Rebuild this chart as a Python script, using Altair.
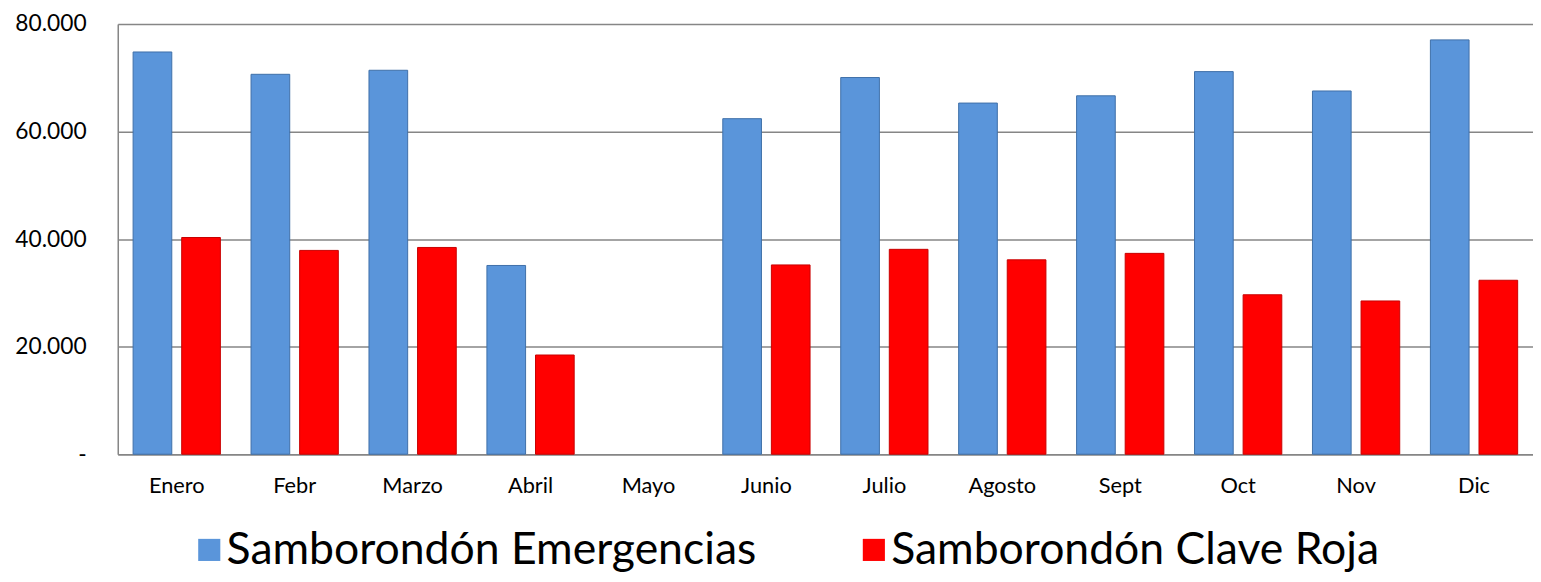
import altair as alt
import pandas as pd

months = ["Enero", "Febr", "Marzo", "Abril", "Mayo", "Junio", "Julio",
          "Agosto", "Sept", "Oct", "Nov", "Dic"]
series_names = ["Samborondón Emergencias", "Samborondón Clave Roja"]
emergencias = [74800, 70650, 71400, 35100, None, 62400, 70050,
               65300, 66650, 71150, 67550, 77050]
clave_roja = [40300, 37900, 38450, 18450, None, 35200, 38100,
              36150, 37350, 29650, 28500, 32350]
y_ticks = [0, 20000, 40000, 60000, 80000]
colors = ["#5A95DA", "#FF0000"]
strokes = ["#3F6FA8", "#C80000"]

rows = []
for i, m in enumerate(months):
    for s, vals in zip(series_names, [emergencias, clave_roja]):
        if vals[i] is not None:
            rows.append({"mes": m, "serie": s, "valor": vals[i]})
df = pd.DataFrame(rows)

FONT = "Lato"

chart = alt.Chart(df).mark_bar(strokeWidth=1).encode(
    x=alt.X("mes:N", sort=months,
            scale=alt.Scale(domain=months, paddingInner=0.26, paddingOuter=0.13),
            axis=alt.Axis(title=None, labelAngle=0, labelFont=FONT, labelFontSize=22,
                          labelColor="#000000", labelPadding=22, ticks=False, tickSize=0,
                          domainColor="#868686", domainWidth=1.5, grid=False)),
    xOffset=alt.XOffset("serie:N", sort=series_names,
                        scale=alt.Scale(domain=series_names, paddingInner=0.204, paddingOuter=0)),
    y=alt.Y("valor:Q",
            scale=alt.Scale(domain=[0, 80000], nice=False),
            axis=alt.Axis(title=None, values=y_ticks, labelFont=FONT, labelFontSize=23,
                          labelColor="#000000", labelPadding=32, ticks=False, tickSize=0,
                          domainColor="#868686", domainWidth=1.5,
                          gridColor="#868686", gridWidth=1.5,
                          labelExpr="datum.value == 0 ? '-\u00a0\u00a0\u00a0\u00a0' : replace(format(datum.value, ','), ',', '.')")),
    color=alt.Color("serie:N", sort=series_names,
                    scale=alt.Scale(domain=series_names, range=colors),
                    legend=alt.Legend(title=None, orient="none", direction="horizontal",
                                      columns=2, legendX=70, legendY=509,
                                      symbolType="square", symbolSize=500,
                                      symbolStrokeWidth=0, labelFont=FONT,
                                      labelFontSize=45, labelColor="#000000",
                                      labelOffset={"expr": "-5"}, columnPadding=96, labelLimit=0)),
    stroke=alt.Stroke("serie:N", sort=series_names,
                      scale=alt.Scale(domain=series_names, range=strokes), legend=None),
).properties(
    width=1431,
    height=435,
    autosize=alt.AutoSizeParams(type="none"),
    padding={"left": 111, "top": 13, "right": 0, "bottom": 126},
).configure_view(strokeWidth=0).configure(background="#ffffff")

chart.save("out.html", embed_options={"renderer": "svg", "actions": False})
